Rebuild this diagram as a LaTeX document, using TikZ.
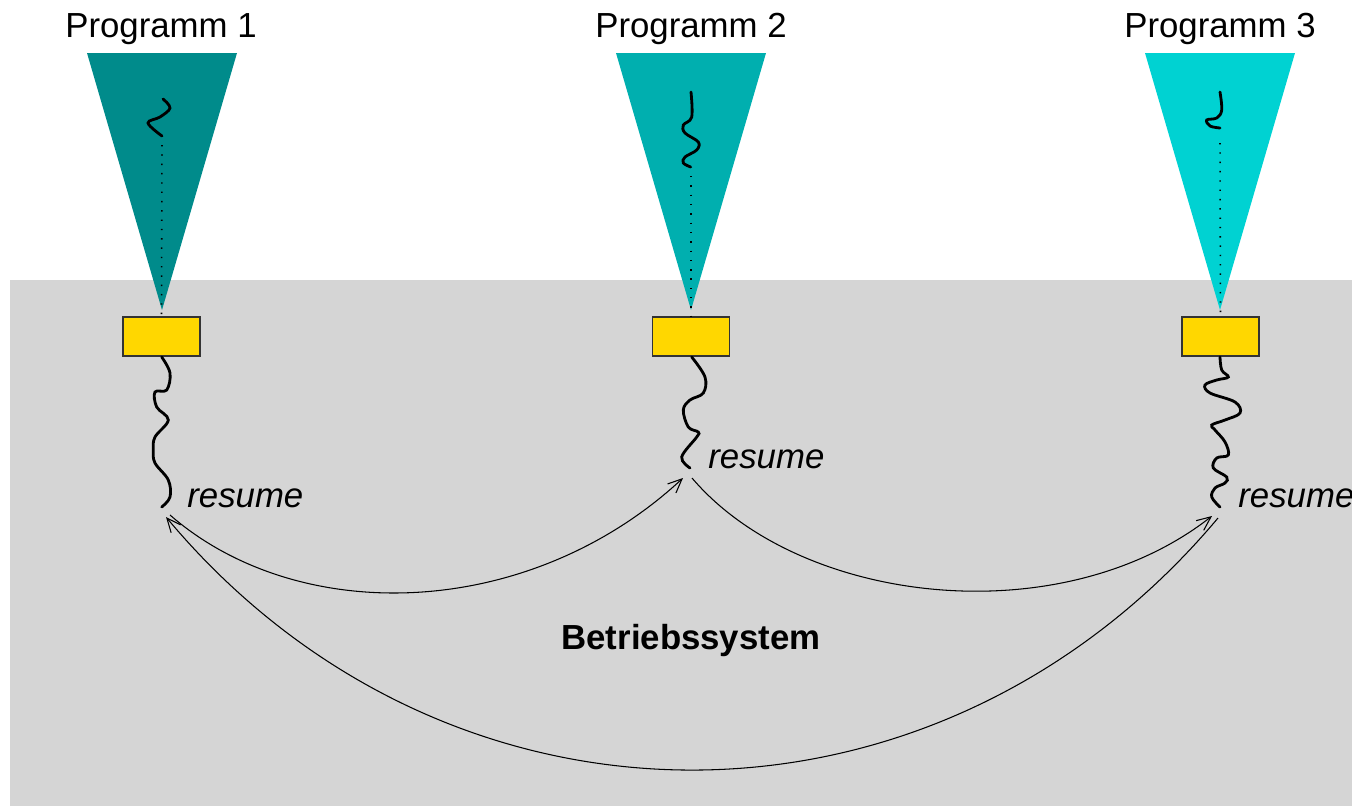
\documentclass[tikz,border=0pt]{standalone}
\usepackage{fontspec}
\setmainfont{Liberation Sans}
\usetikzlibrary{arrows.meta}
\definecolor{prog1}{HTML}{008B8B}
\definecolor{prog2}{HTML}{00AFAF}
\definecolor{prog3}{HTML}{00D2D2}
\definecolor{osgray}{HTML}{D5D5D5}
\definecolor{stub}{HTML}{FFD700}
\tikzset{
	label/.style={font=\fontsize{19.8}{24}\selectfont, inner sep=0pt},
	stubbox/.style={draw=black!80, fill=stub, line width=0.6pt, minimum width=1.54cm, minimum height=0.78cm, inner sep=0pt},
	thread/.style={line width=1.6pt, line cap=round},
	link/.style={dash pattern=on 0.8pt off 4.5pt, line width=0.9pt},
	switch/.style={line width=0.6pt, -{Straight Barb[length=8pt,width=7pt]}}
}
\begin{document}
\begin{tikzpicture}[x=0.02cm, y=-0.02cm]
	\useasboundingbox (0,0) rectangle (1352,806);
	\clip (0,0) rectangle (1352,806);
	% Betriebssystem
	\fill [osgray] (10,280) rectangle (1352,806);
	\node [label, anchor=base, font=\fontsize{19.8}{24}\selectfont\bfseries] (os) at (691,649) {Betriebssystem};
	% Programme
	\fill [prog1] (87,53) -- (237,53) -- (162,310) -- cycle;
	\fill [prog2] (616,53) -- (766,53) -- (691,310) -- cycle;
	\fill [prog3] (1145,53) -- (1295,53) -- (1220,310) -- cycle;
	\node [label, anchor=base] (p1) at (161,37) {Programm 1};
	\node [label, anchor=base] (p2) at (691,37) {Programm 2};
	\node [label, anchor=base] (p3) at (1220,37) {Programm 3};
	\node [stubbox] (box1) at (161.5,336.5) {};
	\node [stubbox] (box2) at (691,336.5) {};
	\node [stubbox] (box3) at (1220.5,336.5) {};
	% Faeden im Programm
	\draw [thread] plot [smooth, tension=0.6] coordinates {(163,99) (170,108) (160,117) (148,123) (162,136)};
	\draw [thread] plot [smooth, tension=0.6] coordinates {(691,92) (691.7,117) (683.3,125) (685,133) (698.3,142) (696.7,150) (685,157) (683.3,163) (690.7,167)};
	\draw [thread] plot [smooth, tension=0.6] coordinates {(1220,92) (1221.7,110) (1216.7,118) (1206.7,120) (1210,126) (1220,128)};
	\draw [link] (162,145) -- (box1.north);
	\draw [link] (691,176) -- (box2.north);
	\draw [link] (1220,143) -- (box3.north);
	% Faeden im Betriebssystem
	\draw [thread] plot [smooth, tension=0.6] coordinates {(161.7,357) (170,373) (166.7,390) (155,392) (156.7,407) (168.3,420) (155,437) (153.3,450) (155,463) (168.3,480) (170,497) (161.7,507)};
	\draw [thread] plot [smooth, tension=0.6] coordinates {(691.7,357) (705,377) (703.3,393) (690,400) (683.3,410) (688.3,427) (698.3,432) (696.7,437) (681.7,457) (690,468)};
	\draw [thread] plot [smooth, tension=0.6] coordinates {(1220,357) (1221.7,370) (1228.3,377) (1216.7,380) (1205,385) (1210,393) (1235,402) (1240,413) (1225,420) (1211.7,425) (1215,430) (1225,442) (1228.3,455) (1216.7,458) (1213.3,468) (1226.7,477) (1225,483) (1215,488) (1211.7,497) (1220,507)};
	\node [label, anchor=base west, font=\fontsize{19.8}{24}\selectfont\itshape] (r1) at (187,507) {resume};
	\node [label, anchor=base west, font=\fontsize{19.8}{24}\selectfont\itshape] (r2) at (708,468) {resume};
	\node [label, anchor=base west, font=\fontsize{19.8}{24}\selectfont\itshape] (r3) at (1238,507) {resume};
	% Umschaltungen
	\coordinate (out1) at (170,515);
	\coordinate (in1) at (166,517);
	\coordinate (out2) at (692,478);
	\coordinate (in2) at (683,478);
	\coordinate (out3) at (1218,518);
	\coordinate (in3) at (1212,516);
	\draw [switch] (out1) .. controls (300,628) and (530,620) .. (in2);
	\draw [switch] (out2) .. controls (800,605) and (1060,635) .. (in3);
	\draw [switch] (out3) .. controls (936,854) and (448,854) .. (in1);
\end{tikzpicture}
\end{document}
